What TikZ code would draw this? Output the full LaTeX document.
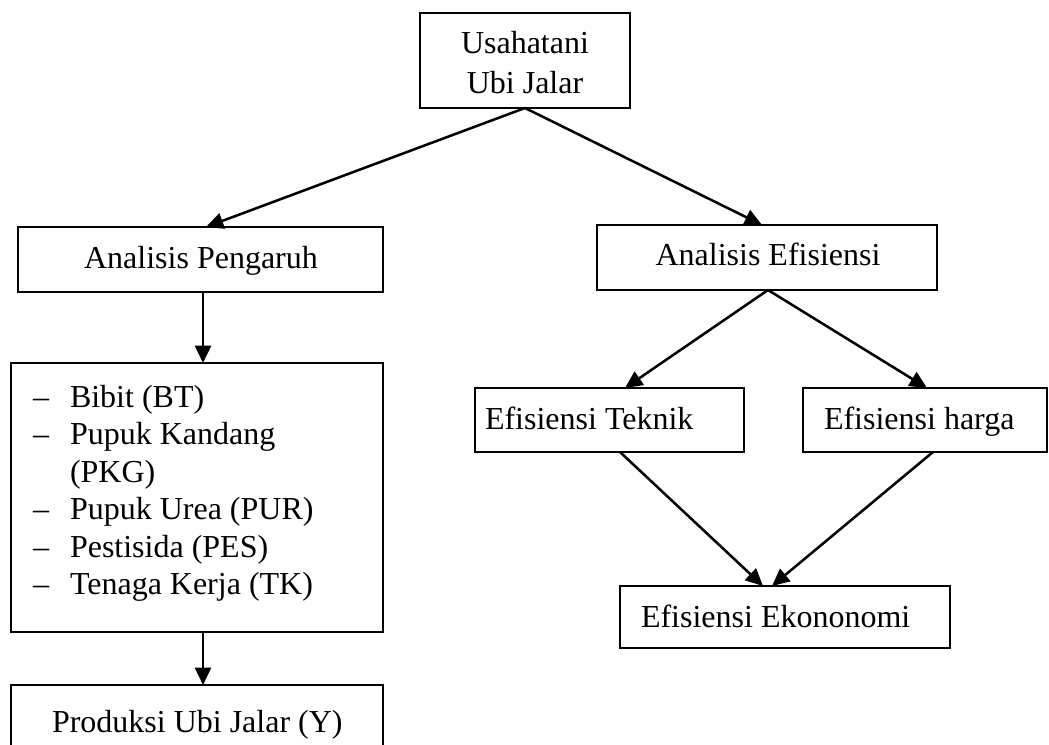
\documentclass[tikz,border=0pt]{standalone}
\usepackage{fontspec}
\setmainfont{Liberation Serif}
\usetikzlibrary{arrows.meta,calc}
\begin{document}
\begin{tikzpicture}[x=0.75pt,y=-0.75pt,
  box/.style={draw,line width=1.3pt,inner sep=0pt,outer sep=0pt,anchor=center},
  lbl/.style={inner sep=0pt,outer sep=0pt,anchor=base west,font=\fontsize{24}{28.2}\selectfont},
  clbl/.style={inner sep=0pt,outer sep=0pt,anchor=base,font=\fontsize{24}{28.2}\selectfont},
  arr/.style={line width=1.9pt,-{Triangle[length=13pt,width=12pt]}}]
\useasboundingbox (0,0) rectangle (1049,745);
% boxes
\node[box,minimum width=157.5pt,minimum height=71.25pt] (top) at (525,60.5) {};
\node[box,minimum width=273.75pt,minimum height=48.75pt] (ap) at (200.5,259.5) {};
\node[box,minimum width=255pt,minimum height=48.75pt] (ae) at (767,257.5) {};
\node[box,minimum width=279pt,minimum height=201.75pt] (list) at (197,497.5) {};
\node[box,minimum width=279pt,minimum height=86.25pt] (prod) at (197,742.5) {};
\node[box,minimum width=201.75pt,minimum height=48pt] (et) at (609.5,420) {};
\node[box,minimum width=183pt,minimum height=48pt] (eh) at (925,420) {};
\node[box,minimum width=247.5pt,minimum height=46.5pt] (ee) at (785,617) {};
% texts
\node[clbl] (t1) at (525,54) {Usahatani};
\node[clbl] (t2) at (525,94) {Ubi Jalar};
\node[clbl] (tap) at (201,268) {Analisis Pengaruh};
\node[clbl] (tae) at (768,266) {Analisis Efisiensi};
\node[lbl] (d1) at (33,407) {\char"2013};
\node[lbl] (l1) at (70,407) {Bibit (BT)};
\node[lbl] (d2) at (33,444.5) {\char"2013};
\node[lbl] (l2) at (70,444.5) {Pupuk Kandang};
\node[lbl] (l3) at (70,482) {(PKG)};
\node[lbl] (d4) at (33,519.5) {\char"2013};
\node[lbl] (l4) at (70,519.5) {Pupuk Urea (PUR)};
\node[lbl] (d5) at (33,557) {\char"2013};
\node[lbl] (l5) at (70,557) {Pestisida (PES)};
\node[lbl] (d6) at (33,594.5) {\char"2013};
\node[lbl] (l6) at (70,594.5) {Tenaga Kerja (TK)};
\node[lbl] (tprod) at (52,732) {Produksi Ubi Jalar (Y)};
\node[lbl] (tet) at (485,429) {Efisiensi Teknik};
\node[lbl] (teh) at (824,429) {Efisiensi harga};
\node[lbl] (tee) at (641,627) {Efisiensi Ekononomi};
% connectors
\coordinate (apin) at ($(ap.north west)+(141pt,0)$);
\coordinate (aein) at ($(ae.north west)+(123.75pt,0)$);
\draw[arr] (top.south) -- (apin);
\draw[arr] (top.south) -- (aein);
\coordinate (apout) at ($(ap.south west)+(138.75pt,0)$);
\draw[arr] (apout) -- (apout |- list.north);
\draw[arr] (apout |- list.south) -- (apout |- prod.north);
\coordinate (aeout) at ($(ae.south west)+(128.25pt,0)$);
\coordinate (etin) at ($(et.north west)+(112.5pt,0)$);
\coordinate (ehin) at ($(eh.north west)+(93pt,0)$);
\draw[arr] (aeout) -- (etin);
\draw[arr] (aeout) -- (ehin);
\coordinate (etout) at ($(et.south west)+(108.75pt,0)$);
\coordinate (ehout) at ($(eh.south west)+(97.5pt,0)$);
\coordinate (eein1) at ($(ee.north west)+(107.25pt,0)$);
\coordinate (eein2) at ($(ee.north west)+(114pt,0)$);
\draw[arr] (etout) -- (eein1);
\draw[arr] (ehout) -- (eein2);
\end{tikzpicture}
\end{document}
